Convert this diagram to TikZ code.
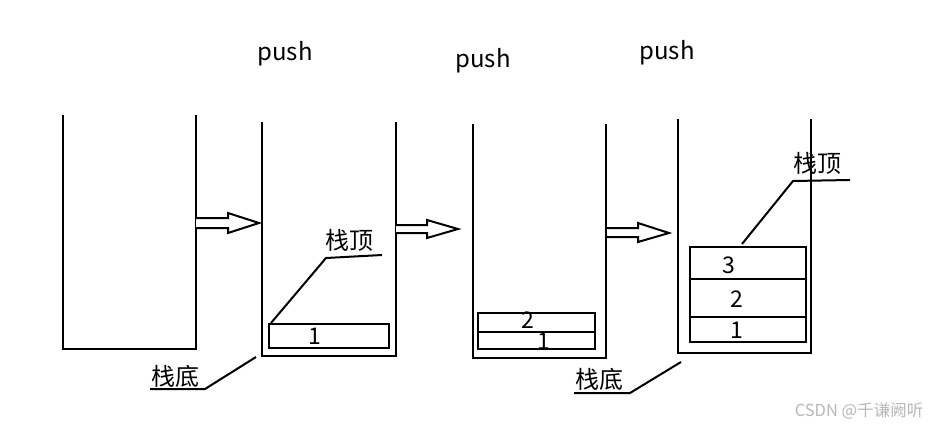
\documentclass[tikz,border=0pt]{standalone}
\usepackage{fontspec}
\setmainfont{Noto Sans CJK SC}
\begin{document}
\begin{tikzpicture}[x=1pt,y=-1pt,
  wall/.style={line width=2.3pt,line join=miter},
  ln/.style={line width=2pt},
  block/.style={draw,line width=2pt},
  hollow/.style={draw,line width=2pt,line join=miter,fill=white},
  lbl/.style={inner sep=0pt,font=\fontsize{24}{28}\selectfont},
  num/.style={inner sep=0pt,font=\fontsize{23}{26}\selectfont},
  wm/.style={inner sep=0pt,text=black!28,font=\fontsize{16.5}{19}\selectfont}]
\useasboundingbox (0,0) rectangle (930,426);
% stack 1
\coordinate (s1a) at (63,115); \coordinate (s1b) at (63,349);
\coordinate (s1c) at (196,349); \coordinate (s1d) at (196,115);
\draw[wall] (s1a) -- (s1b) -- (s1c) -- (s1d);
% stack 2
\coordinate (s2a) at (262,122); \coordinate (s2b) at (262,356);
\coordinate (s2c) at (396,356); \coordinate (s2d) at (396,122);
\draw[wall] (s2a) -- (s2b) -- (s2c) -- (s2d);
% stack 3
\coordinate (s3a) at (473,124); \coordinate (s3b) at (473,358);
\coordinate (s3c) at (606,358); \coordinate (s3d) at (606,124);
\draw[wall] (s3a) -- (s3b) -- (s3c) -- (s3d);
% stack 4
\coordinate (s4a) at (678,119); \coordinate (s4b) at (678,353);
\coordinate (s4c) at (811,353); \coordinate (s4d) at (811,119);
\draw[wall] (s4a) -- (s4b) -- (s4c) -- (s4d);
% hollow arrows
\draw[hollow] (196,218) -- (228,218) -- (228,213) -- (259,223) -- (228,233) -- (228,228) -- (196,228);
\draw[hollow] (396,225) -- (427,225) -- (427,220) -- (458,229) -- (427,238) -- (427,233) -- (396,233);
\draw[hollow] (607,228) -- (638,228) -- (638,223) -- (669,233) -- (638,242) -- (638,237) -- (607,237);
% push labels
\node[lbl] (p1) at (285,54) {push};
\node[lbl] (p2) at (483,61) {push};
\node[lbl] (p3) at (667,53) {push};
% stack 2 contents
\node[block,minimum width=120pt,minimum height=24pt,inner sep=0pt] (b21) at (329,336) {};
\node[num] (n21) at (315,336) {1};
% stack 3 contents
\node[block,minimum width=117pt,minimum height=19pt,inner sep=0pt] (b32) at (536.5,322.5) {};
\node[block,minimum width=117pt,minimum height=17pt,inner sep=0pt] (b31) at (536.5,340.5) {};
\node[num] (n32) at (528,320) {2};
\node[num] (n31) at (544,341) {1};
% stack 4 contents
\node[block,minimum width=116pt,minimum height=95pt,inner sep=0pt] (b4) at (748,294.5) {};
\draw[ln] (690,279) -- (806,279);
\draw[ln] (690,317) -- (806,317);
\node[num] (n43) at (729,265) {3};
\node[num] (n42) at (737,299) {2};
\node[num] (n41) at (737,330) {1};
% top labels
\node[lbl] (t2) at (349,240) {栈顶};
\coordinate (t2u) at (326,258); \coordinate (t2e) at (382,255); \coordinate (t2p) at (271,323);
\draw[ln] (t2e) -- (t2u) -- (t2p);
\node[lbl] (t4) at (817,163) {栈顶};
\coordinate (t4u) at (793,181); \coordinate (t4e) at (850,180); \coordinate (t4p) at (742,244);
\draw[ln] (t4e) -- (t4u) -- (t4p);
% bottom labels
\node[lbl] (d2) at (175,376) {栈底};
\coordinate (d2u) at (205,389); \coordinate (d2e) at (150,389); \coordinate (d2p) at (256,357);
\draw[ln] (d2e) -- (d2u) -- (d2p);
\node[lbl] (d4) at (599,379) {栈底};
\coordinate (d4u) at (630,393); \coordinate (d4e) at (574,393); \coordinate (d4p) at (681,362);
\draw[ln] (d4e) -- (d4u) -- (d4p);
% watermark
\node[wm] (w) at (859,411) {CSDN @千谦阙听};
\end{tikzpicture}
\end{document}
